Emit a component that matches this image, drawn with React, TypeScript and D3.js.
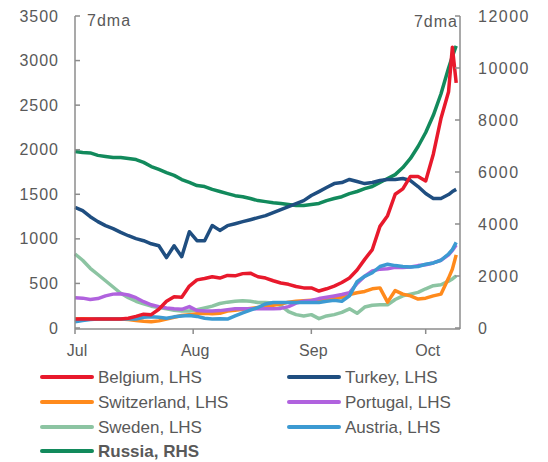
import React from 'react'
import * as d3 from 'd3'

// days after 1 July 2020
const dayOffsets = [
  0, 2, 4, 6, 8, 10, 12, 14, 16, 18, 20, 22, 24, 26, 28, 30, 32, 34, 36, 38,
  40, 42, 44, 46, 48, 50, 52, 54, 56, 58, 60, 62, 64, 66, 68, 70, 72, 74, 76, 78,
  80, 82, 84, 86, 88, 90, 92, 94, 96, 98, 99, 100
]

const belgium = [
  100, 100, 100, 100, 100, 100, 100, 110, 130, 155, 150, 210, 300, 350, 345, 470, 540, 555, 575, 560,
  590, 585, 610, 615, 575, 560, 530, 505, 490, 465, 450, 450, 415, 440, 470, 510, 560, 650, 770, 880,
  1140, 1260, 1500, 1560, 1700, 1700, 1650, 1950, 2350, 2650, 3150, 2750
]
const turkey = [
  1354, 1317, 1249, 1193, 1148, 1114, 1072, 1035, 1002, 979, 945, 923, 790, 923, 800, 1080, 979, 979, 1150, 1095,
  1148, 1170, 1193, 1215, 1238, 1260, 1294, 1328, 1362, 1395, 1429, 1486, 1530, 1576, 1620, 1632, 1666, 1643, 1620, 1632,
  1654, 1666, 1666, 1677, 1654, 1587, 1508, 1452, 1452, 1497, 1530, 1555
]
const switzerland = [
  100, 105, 100, 100, 100, 100, 100, 95, 85, 75, 70, 80, 100, 120, 140, 150, 160, 165, 160, 165,
  190, 200, 210, 220, 230, 240, 255, 270, 290, 300, 305, 310, 320, 320, 330, 345, 375, 395, 410, 440,
  450, 290, 420, 380, 360, 325, 335, 360, 380, 560, 660, 820
]
const portugal = [
  340, 335, 320, 330, 360, 380, 385, 370, 340, 295, 260, 240, 225, 215, 210, 240, 195, 190, 190, 195,
  205, 215, 215, 215, 215, 215, 215, 220, 240, 280, 300, 310, 330, 345, 360, 375, 395, 500, 580, 640,
  660, 665, 680, 680, 685, 700, 710, 730, 760, 820, 870, 930
]
const sweden = [
  830, 760, 670, 600, 530, 460, 390, 340, 300, 270, 245, 230, 215, 200, 190, 190, 205, 225, 245, 275,
  290, 300, 305, 300, 285, 285, 280, 250, 185, 150, 135, 150, 105, 135, 150, 175, 215, 165, 235, 255,
  260, 260, 320, 360, 380, 400, 440, 475, 485, 525, 550, 585
]
const austria = [
  70, 85, 95, 100, 100, 100, 100, 100, 100, 120, 125, 120, 110, 125, 135, 140, 130, 110, 100, 105,
  100, 135, 170, 200, 230, 270, 285, 285, 285, 285, 285, 285, 285, 300, 310, 300, 360, 520, 580, 620,
  690, 715, 700, 690, 685, 690, 715, 730, 760, 830, 880, 960
]
const russia = [
  6790, 6750, 6735, 6640, 6600, 6560, 6560, 6520, 6480, 6370, 6210, 6100, 5980, 5870, 5710, 5600, 5480, 5440, 5330, 5250,
  5170, 5090, 5050, 4980, 4900, 4860, 4820, 4790, 4750, 4710, 4710, 4750, 4790, 4900, 4980, 5050, 5170, 5250, 5360, 5440,
  5600, 5750, 5900, 6170, 6520, 6980, 7520, 8180, 9000, 10000, 10450, 10850
]

const leftTicks = [0, 500, 1000, 1500, 2000, 2500, 3000, 3500]
const rightTicks = [0, 2000, 4000, 6000, 8000, 10000, 12000]
const monthLabels = ['Jul', 'Aug', 'Sep', 'Oct']

const series = [
  { name: 'Belgium, LHS', values: belgium, color: '#e8192c', axis: 'left', col: 0, row: 0 },
  { name: 'Turkey, LHS', values: turkey, color: '#1f4e80', axis: 'left', col: 1, row: 0 },
  { name: 'Switzerland, LHS', values: switzerland, color: '#ff8a1c', axis: 'left', col: 0, row: 1 },
  { name: 'Portugal, LHS', values: portugal, color: '#b062de', axis: 'left', col: 1, row: 1 },
  { name: 'Sweden, LHS', values: sweden, color: '#8cc4a2', axis: 'left', col: 0, row: 2 },
  { name: 'Austria, LHS', values: austria, color: '#3c9ad2', axis: 'left', col: 1, row: 2 },
  { name: 'Russia, RHS', values: russia, color: '#128a5c', axis: 'right', col: 0, row: 3 }
]
// back to front
const drawOrder = ['Sweden, LHS', 'Switzerland, LHS', 'Portugal, LHS', 'Austria, LHS', 'Russia, RHS', 'Turkey, LHS', 'Belgium, LHS']

const FONT = '"Liberation Sans", Arial, sans-serif'
const TEXT = '#595959'
const AXIS = '#8c8c8c'

export default function App() {
  const start = new Date(2020, 6, 1)
  const dates = dayOffsets.map(d => d3.timeDay.offset(start, d))
  const x = d3.scaleTime().domain([start, new Date(2020, 9, 10)]).range([75, 460])
  const yL = d3.scaleLinear().domain([0, 3500]).range([328, 16])
  const yR = d3.scaleLinear().domain([0, 12000]).range([328, 16])
  const months = d3.timeMonth.range(start, new Date(2020, 9, 2))

  const line = (vals: number[], y: d3.ScaleLinear<number, number>) =>
    d3.line<number>().x((_, i) => x(dates[i])).y(v => y(v))(vals) || ''

  const legendX = [42, 289]
  const legendY = [377, 402, 427, 451]

  return (
    <svg width={548} height={462} style={{ position: 'absolute', left: 0, top: 0, background: '#fff' }} fontFamily={FONT}>
      {drawOrder.map(n => {
        const s = series.find(d => d.name === n)!
        return (
          <path key={n} d={line(s.values, s.axis === 'left' ? yL : yR)} fill='none'
            stroke={s.color} strokeWidth={3.5} strokeLinejoin='round' />
        )
      })}

      {/* axes */}
      <line x1={75} x2={75} y1={16} y2={329} stroke={AXIS} strokeWidth={1.5} />
      <line x1={460} x2={460} y1={16} y2={329} stroke={AXIS} strokeWidth={1.5} />
      <line x1={75} x2={460} y1={329} y2={329} stroke={AXIS} strokeWidth={1.5} />
      {leftTicks.map(t => (
        <g key={t}>
          <line x1={75} x2={80} y1={yL(t)} y2={yL(t)} stroke={AXIS} strokeWidth={1.5} />
          <text x={59} y={yL(t)} dy='0.35em' textAnchor='end' fontSize={16} letterSpacing={1} fill={TEXT}>{t}</text>
        </g>
      ))}
      {rightTicks.map(t => (
        <g key={t}>
          <line x1={455} x2={460} y1={yR(t)} y2={yR(t)} stroke={AXIS} strokeWidth={1.5} />
          <text x={478} y={yR(t)} dy='0.35em' textAnchor='start' fontSize={16} letterSpacing={1.5} fill={TEXT}>{t}</text>
        </g>
      ))}
      {months.map((m, i) => (
        <g key={i}>
          <line x1={x(m)} x2={x(m)} y1={329} y2={334} stroke={AXIS} strokeWidth={1.5} />
          <text x={x(m) + (i === 0 ? 2 : 2)} y={356} textAnchor='middle' fontSize={16} fill={TEXT}>{monthLabels[i]}</text>
        </g>
      ))}
      <text x={87} y={26} fontSize={16} letterSpacing={1} fill={TEXT}>7dma</text>
      <text x={458} y={27} fontSize={16} letterSpacing={1} textAnchor='end' fill={TEXT}>7dma</text>

      {/* legend */}
      {series.map(s => (
        <g key={s.name} transform={`translate(${legendX[s.col]},${legendY[s.row]})`}>
          <line x1={0} x2={50} y1={0} y2={0} stroke={s.color} strokeWidth={4} strokeLinecap='round' />
          <text x={56} y={0} dy='0.35em' fontSize={17} fill={TEXT}
            fontWeight={s.axis === 'right' ? 'bold' : 'normal'}>{s.name}</text>
        </g>
      ))}
    </svg>
  )
}
